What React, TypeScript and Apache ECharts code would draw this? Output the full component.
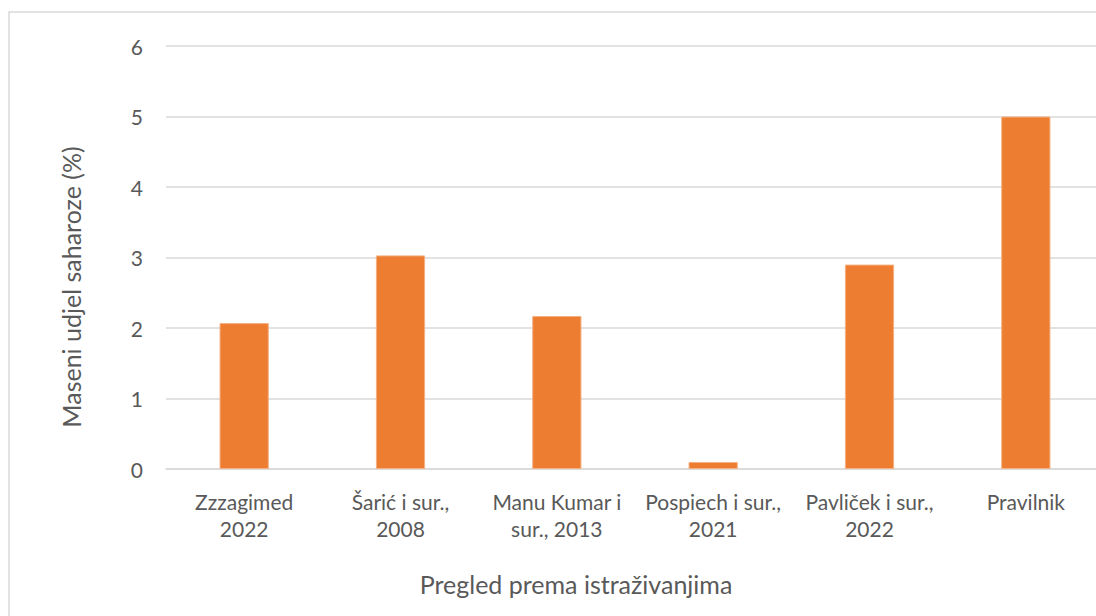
import React, { useEffect, useRef } from "react";
import * as echarts from "echarts";

const categories = [
  "Zzzagimed\n2022",
  "Šarić i sur.,\n2008",
  "Manu Kumar i\nsur., 2013",
  "Pospiech i sur.,\n2021",
  "Pavliček i sur.,\n2022",
  "Pravilnik",
];
const values = [2.07, 3.03, 2.17, 0.1, 2.9, 5.0];
const yTitle = "Maseni udjel saharoze (%)";
const xTitle = "Pregled prema istraživanjima";

const FONT = "Lato";
const TXT = "#595959";

export default function App() {
  const ref = useRef<HTMLDivElement>(null);
  useEffect(() => {
    document.body.style.margin = "0";
    document.body.style.overflow = "hidden";
    const chart = echarts.init(ref.current!, null, { renderer: "svg" });
    chart.setOption({
      animation: false,
      backgroundColor: "#ffffff",
      textStyle: { fontFamily: FONT },
      grid: { left: 166, right: 10, top: 46, bottom: 147, containLabel: false },
      xAxis: {
        type: "category",
        data: categories,
        axisLine: { lineStyle: { color: "#d9d9d9", width: 1.5 } },
        axisTick: { show: false },
        axisLabel: {
          color: TXT,
          fontFamily: FONT,
          fontSize: 21,
          lineHeight: 27,
          margin: 19,
          interval: 0,
        },
      },
      yAxis: {
        type: "value",
        min: 0,
        max: 6,
        interval: 1,
        axisLine: { show: false },
        axisTick: { show: false },
        splitLine: { lineStyle: { color: "#d9d9d9", width: 1.5 } },
        axisLabel: { color: TXT, fontFamily: FONT, fontSize: 21, margin: 23 },
      },
      series: [
        {
          type: "bar",
          data: values,
          barWidth: "31.5%",
          itemStyle: { color: "#ED7D31", borderColor: "#F4B183", borderWidth: 1 },
        },
      ],
      graphic: [
        {
          type: "rect",
          shape: { x: 9, y: 12, width: 1200, height: 700 },
          style: { fill: "none", stroke: "#d9d9d9", lineWidth: 1.5 },
          silent: true,
          z: -1,
        },
        {
          type: "text",
          x: 576,
          y: 584,
          style: {
            text: xTitle,
            fill: TXT,
            font: `25px ${FONT}`,
            textAlign: "center",
            textVerticalAlign: "middle",
          },
        },
        {
          type: "text",
          x: 71,
          y: 287,
          rotation: Math.PI / 2,
          style: {
            text: yTitle,
            fill: TXT,
            font: `25px ${FONT}`,
            textAlign: "center",
            textVerticalAlign: "middle",
          },
        },
      ],
    });
    return () => chart.dispose();
  }, []);
  return <div ref={ref} style={{ width: 1114, height: 616 }} />;
}
